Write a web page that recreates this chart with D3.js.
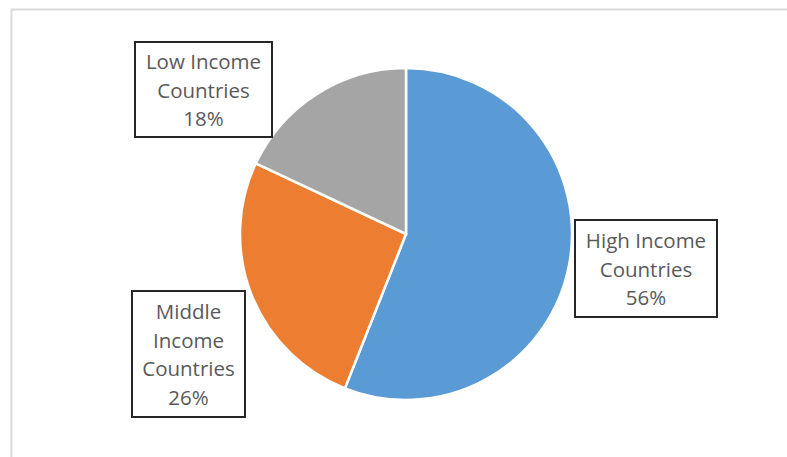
<!DOCTYPE html>
<html>
<head>
<meta charset="utf-8">
<script src="https://cdn.jsdelivr.net/npm/d3@7"></script>
<style>
  body { margin: 0; background: #fff; }
  text { font-family: "Open Sans", sans-serif; }
</style>
</head>
<body>
<div id="chart"></div>
<script>
const categories = ['High Income Countries', 'Middle Income Countries', 'Low Income Countries'];
const shares = [56, 26, 18];
const labelLines = [
    ['High Income', 'Countries', '56%'],
    ['Middle', 'Income', 'Countries', '26%'],
    ['Low Income', 'Countries', '18%']
];
const colors = ['#5B9BD5', '#ED7D31', '#A5A5A5'];

(function(){
    const width = 787;
    const height = 457;
    const cx = 406, cy = 234, radius = 166;

    const svg = d3.select('#chart')
        .append('svg')
            .attr('width', width)
            .attr('height', height);

    // chart area frame (only top and left edges show)
    svg.append('path')
        .attr('d', `M11.5,${height} V9.5 H${width}`)
        .style('fill', 'none')
        .style('stroke', '#d9d9d9')
        .style('stroke-width', 2);

    const data = categories.map((c, i) => ({ name: c, value: shares[i], lines: labelLines[i] }));

    const pie = d3.pie()
        .sort(null)
        .value(d => d.value);

    const arc = d3.arc()
        .innerRadius(0)
        .outerRadius(radius);

    const g = svg.append('g')
        .attr('transform', `translate(${cx}, ${cy})`);

    g.selectAll('.slice')
        .data(pie(data))
        .enter()
        .append('path')
            .attr('class', 'slice')
            .attr('d', arc)
            .style('fill', (d, i) => colors[i])
            .style('stroke', '#fff')
            .style('stroke-width', 2.5);

    // label boxes: [left, top, right, bottom]
    const boxes = [
        [575, 220, 717, 317],
        [132, 291, 245, 417],
        [135, 42, 272, 137]
    ];

    const lineH = 28.5;
    const labels = svg.selectAll('.label')
        .data(data)
        .enter()
        .append('g')
            .attr('class', 'label');

    labels.append('rect')
        .attr('x', (d, i) => boxes[i][0])
        .attr('y', (d, i) => boxes[i][1])
        .attr('width', (d, i) => boxes[i][2] - boxes[i][0])
        .attr('height', (d, i) => boxes[i][3] - boxes[i][1])
        .style('fill', '#fff')
        .style('stroke', '#262626')
        .style('stroke-width', 2);

    labels.each(function(d, i) {
        const b = boxes[i];
        const mx = (b[0] + b[2]) / 2;
        const my = (b[1] + b[3]) / 2 + 1;
        const n = d.lines.length;
        d3.select(this).selectAll('text')
            .data(d.lines)
            .enter()
            .append('text')
                .attr('x', mx)
                .attr('y', (t, j) => my + (j - (n - 1) / 2) * lineH)
                .attr('dy', '0.35em')
                .attr('text-anchor', 'middle')
                .style('font-size', '20.5px')
                .style('fill', '#595959')
                .text(t => t);
    });
}())
</script>
</body>
</html>
